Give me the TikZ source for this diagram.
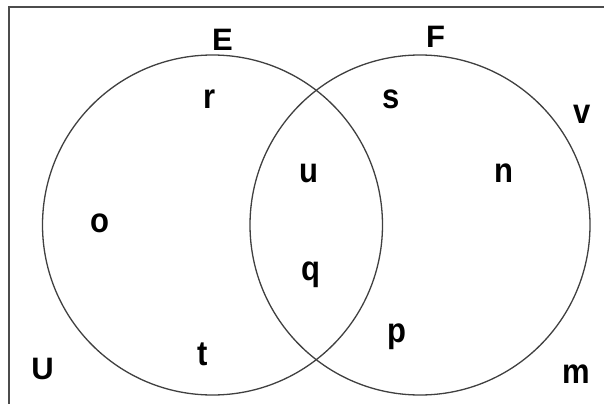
\documentclass[tikz,border=0pt]{standalone}
\usepackage{fontspec}
\usepackage{graphicx}
\setmainfont{Liberation Sans}
\newcommand\tallx[1]{\scalebox{1}[1.12]{#1}}
\begin{document}
\begin{tikzpicture}[x=1pt,y=-1pt,
  setcircle/.style={draw=black!75,line width=1.3pt},
  frameline/.style={draw=black!70,line width=2pt},
  lbl/.style={anchor=base,inner sep=0pt,font=\fontsize{31}{31}\selectfont\bfseries}]
\useasboundingbox (0,0) rectangle (604,404);
\fill[white] (0,0) rectangle (604,404);
% universe frame (only top and left edges visible)
\draw[frameline] (604,7.5) -- (8.5,7.5) -- (8.5,404);
% sets
\node[setcircle,circle,minimum size=340pt,inner sep=0pt] (setE) at (212.5,225) {};
\node[setcircle,circle,minimum size=340pt,inner sep=0pt] (setF) at (420,225) {};
% labels
\node[lbl] (lE) at (222.5,50) {E};
\node[lbl] (lF) at (435.5,48) {F};
\node[lbl] (lU) at (42.5,379) {U};
\node[lbl] (lr) at (210,108) {\tallx{r}};
\node[lbl] (ls) at (391,108) {\tallx{s}};
\node[lbl] (lu) at (308.5,182) {\tallx{u}};
\node[lbl] (ln) at (504,182) {\tallx{n}};
\node[lbl] (lo) at (100,232) {\tallx{o}};
\node[lbl] (lq) at (310.5,280) {\tallx{q}};
\node[lbl] (lv) at (582.5,123) {\tallx{v}};
\node[lbl] (lp) at (396.5,342) {\tallx{p}};
\node[lbl] (lt) at (203,365) {\tallx{t}};
\node[lbl] (lm) at (576,383) {\tallx{m}};
\end{tikzpicture}
\end{document}
